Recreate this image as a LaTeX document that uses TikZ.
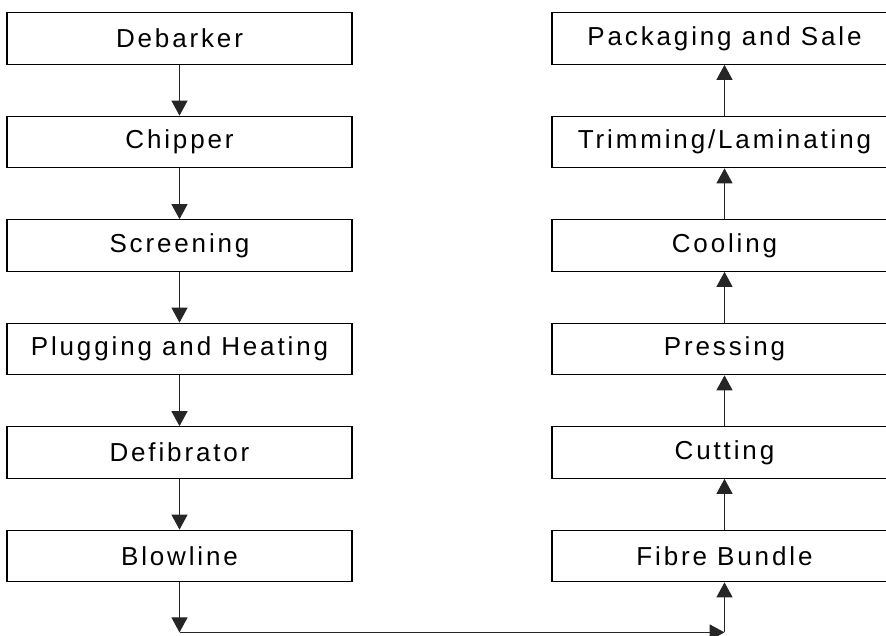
\documentclass[tikz,border=0pt]{standalone}
\usepackage{fontspec}
\setmainfont[LetterSpace=11]{Liberation Sans}
\usetikzlibrary{arrows.meta}
\begin{document}
\begin{tikzpicture}[x=1pt,y=1pt,
  stage/.style={draw=black, line width=1.2pt, minimum width=345pt, minimum height=51.5pt,
    inner sep=0pt, font=\fontsize{26}{29}\selectfont},
  flow/.style={draw=black!85, line width=1.1pt, -{Triangle[length=15pt,width=16pt]}}]
\useasboundingbox (0,0) rectangle (886,635);
\clip (0,0) rectangle (886,635);
% left column: wood preparation
\node[stage] (deb)  at (179.5,596.5) {Debarker};
\node[stage] (chip) at (179.5,493)   {Chipper};
\node[stage] (scr)  at (179.5,389.5) {Screening};
\node[stage] (plug) at (179.5,286)   {Plugging and Heating};
\node[stage] (defi) at (179.5,182.5) {Defibrator};
\node[stage] (blow) at (179.5,79)    {Blowline};
% right column: board forming
\node[stage] (pack) at (724.5,596.5) {Packaging and Sale};
\node[stage] (trim) at (724.5,493)   {Trimming/Laminating};
\node[stage] (cool) at (724.5,389.5) {Cooling};
\node[stage] (pres) at (724.5,286)   {Pressing};
\node[stage] (cut)  at (724.5,182.5) {Cutting};
\node[stage] (fib)  at (724.5,79)    {Fibre Bundle};
% bottom return path
\coordinate (c1) at (179.5,2.6);
\coordinate (c2) at (724.5,2.6);
\draw[flow] (deb.south) -- (chip.north);
\draw[flow] (chip.south) -- (scr.north);
\draw[flow] (scr.south) -- (plug.north);
\draw[flow] (plug.south) -- (defi.north);
\draw[flow] (defi.south) -- (blow.north);
\draw[flow] (blow.south) -- (c1);
\draw[flow] (c1) -- (c2);
\draw[flow] (c2) -- (fib.south);
\draw[flow] (fib.north) -- (cut.south);
\draw[flow] (cut.north) -- (pres.south);
\draw[flow] (pres.north) -- (cool.south);
\draw[flow] (cool.north) -- (trim.south);
\draw[flow] (trim.north) -- (pack.south);
\end{tikzpicture}
\end{document}
